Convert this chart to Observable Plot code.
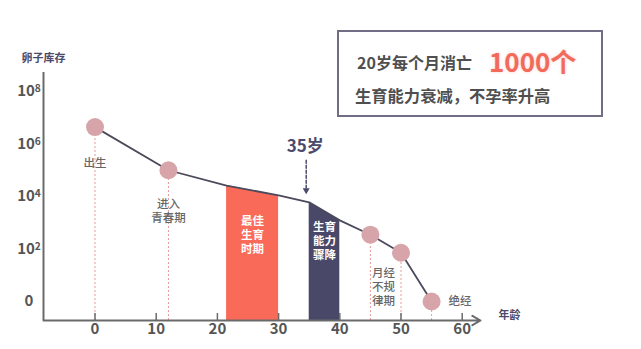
<!DOCTYPE html>
<html><head><meta charset="utf-8">
<script src="https://cdn.jsdelivr.net/npm/d3@7"></script>
<script src="https://cdn.jsdelivr.net/npm/@observablehq/plot@0.6"></script>
<style>
html,body{margin:0;padding:0;background:#fff;}
#wrap{position:relative;width:641px;height:349px;overflow:hidden;font-family:"Noto Sans CJK SC","Noto Sans",sans-serif;}
#wrap svg{position:absolute;left:0;top:0;}
#box{position:absolute;left:337px;top:30px;width:262px;height:83px;border:2px solid #6f6e84;}
.t{position:absolute;white-space:nowrap;font-weight:700;color:#4f4f4f;}
#l1{left:357px;top:51px;font-size:16px;line-height:22px;}
#big{left:489px;top:44px;font-size:26px;line-height:34px;color:#f26a5a;text-shadow:0 0 3px rgba(242,106,90,0.35);}
#l2{left:355px;top:84px;font-size:16.3px;line-height:22px;}
</style></head>
<body>
<div id="wrap">
  <div id="box"></div>
  <div class="t" id="l1"></div>
  <div class="t" id="big"></div>
  <div class="t" id="l2"></div>
</div>
<script>
// ---- data ----
const ages = [0, 12, 21.5, 30, 35, 40, 45, 50, 55];
const eggs = [4400000, 100000, 26000, 11000, 6000, 1230, 350, 72, 1];
const milestoneAges = [0, 12, 45, 50, 55];
const milestoneEggs = [4400000, 100000, 350, 72, 1];
const milestoneLabels = ["出生", "进入\n青春期", "月经\n不规\n律期", "绝经"];
const bestPeriod = [21.5, 30];
const bestLabel = "最佳\n生育\n时期";
const declinePeriod = [35, 40];
const declineLabel = "生育\n能力\n骤降";
const turnAge = 35;
const turnLabel = "35岁";
const xTicks = [0, 10, 20, 30, 40, 50, 60];
const yTicks = [1, 1e2, 1e4, 1e6, 1e8];
const yTickLabels = ["0", "10²", "10⁴", "10⁶", "10⁸"];
const yTitle = "卵子库存";
const xTitle = "年龄";
const calloutLine1 = "20岁每个月消亡";
const calloutBig = "1000个";
const calloutLine2 = "生育能力衰减，不孕率升高";

document.getElementById("l1").textContent = calloutLine1;
document.getElementById("big").textContent = calloutBig;
document.getElementById("l2").textContent = calloutLine2;

const curve = ages.map((age, i) => ({age, eggs: eggs[i]}));
const milestones = milestoneAges.map((age, i) => ({age, eggs: milestoneEggs[i]}));
const turn = curve.find(d => d.age === turnAge);

const xLo = -8.415, xHi = 62.99;
const yLo = Math.pow(10, -0.724), yHi = Math.pow(10, 8.724);

const font = '"Noto Sans CJK SC","Noto Sans",sans-serif';
const axisColor = "#6a6a6a";
const labelStyle = {fontSize: 11.5, fill: "#666", fontWeight: 500, lineHeight: 1.22};
const barText = {fontSize: 11.5, fill: "#fff", fontWeight: 700, lineHeight: 1.2};

const chart = Plot.plot({
  width: 641, height: 349,
  marginLeft: 43, marginRight: 161, marginTop: 72, marginBottom: 29,
  x: {domain: [xLo, xHi], axis: null},
  y: {type: "log", domain: [yLo, yHi], axis: null},
  style: {fontFamily: font, background: "transparent", overflow: "visible"},
  marks: [
    Plot.areaY(curve.filter(d => d.age >= bestPeriod[0] && d.age <= bestPeriod[1]),
      {x: "age", y1: () => yLo, y2: "eggs", fill: "#fa6a59"}),
    Plot.areaY(curve.filter(d => d.age >= declinePeriod[0] && d.age <= declinePeriod[1]),
      {x: "age", y1: () => yLo, y2: "eggs", fill: "#4a4869"}),
    Plot.ruleX(milestones, {x: "age", y1: () => yLo, y2: "eggs", stroke: "#e99a9a", strokeWidth: 1, strokeDasharray: "2,2"}),
    Plot.line(curve, {x: "age", y: "eggs", stroke: "#4a4a5c", strokeWidth: 1.8}),
    Plot.dot(milestones, {x: "age", y: "eggs", r: 9, fill: "#d7a5a9"}),
    // axes
    Plot.ruleX([xLo], {stroke: axisColor, strokeWidth: 2}),
    Plot.arrow([0], {x1: () => xLo, x2: () => xHi, y1: () => yLo, y2: () => yLo, stroke: axisColor, strokeWidth: 2, headLength: 7}),
    Plot.ruleX(xTicks, {insetTop: 241, stroke: axisColor, strokeWidth: 1.5}),
    Plot.text(xTicks, {x: d => d, frameAnchor: "bottom", dy: 13, text: d => String(d), fontSize: 15, fontWeight: 700, fill: "#555"}),
    Plot.text(yTicks, {y: d => d, frameAnchor: "left", dx: -14.5, textAnchor: "middle", text: (d, i) => yTickLabels[i], fontSize: 15, fontWeight: 700, fill: "#555"}),
    Plot.text([yTitle], {frameAnchor: "top-left", dy: -18, textAnchor: "middle", text: d => d, fontSize: 11, fontWeight: 700, fill: "#4b4a6b"}),
    Plot.text([xTitle], {frameAnchor: "bottom-right", dx: 18, dy: -2, textAnchor: "start", text: d => d, fontSize: 11, fontWeight: 700, fill: "#4b4a6b"}),
    // milestone labels
    Plot.text([milestones[0]], {x: "age", y: "eggs", dy: 35, text: () => milestoneLabels[0], ...labelStyle}),
    Plot.text([milestones[1]], {x: "age", y: "eggs", dy: 40, text: () => milestoneLabels[1], ...labelStyle}),
    Plot.text([milestones[2]], {x: "age", y: "eggs", dx: 13, dy: 52, text: () => milestoneLabels[2], ...labelStyle}),
    Plot.text([milestones[4]], {x: "age", y: "eggs", dx: 17, dy: -1, textAnchor: "start", text: () => milestoneLabels[3], ...labelStyle}),
    // period labels
    Plot.text([bestPeriod], {x: d => (d[0] + d[1]) / 2, frameAnchor: "bottom", dy: -68, text: () => bestLabel, ...barText}),
    Plot.text([declinePeriod], {x: d => (d[0] + d[1]) / 2, frameAnchor: "bottom", dy: -62, text: () => declineLabel, ...barText}),
    // 35 annotation
    Plot.text([turn], {x: "age", y: "eggs", dx: -4, dy: -56, text: () => turnLabel, fontSize: 17, fontWeight: 700, fill: "#4b4a6b"}),
    Plot.vector([turn], {x: "age", y: "eggs", dx: -3, dy: -12, length: 30, rotate: 180, anchor: "end",
      shape: {draw(context, l) { context.moveTo(0, 0); context.lineTo(0, -l); }},
      stroke: "#4b4a6b", strokeWidth: 1.5, strokeDasharray: "3,2"}),
    Plot.dot([turn], {x: "age", y: "eggs", dx: -3, dy: -12, symbol: "triangle", rotate: 180, r: 2.6, fill: "#4b4a6b", stroke: "none"})
  ]
});

// render superscript exponents as real raised text
const supMap = {"²": "2", "⁴": "4", "⁶": "6", "⁸": "8"};
chart.querySelectorAll("text").forEach(t => {
  const m = /^10([²⁴⁶⁸])$/.exec(t.textContent);
  if (!m) return;
  t.textContent = "10";
  const ts = document.createElementNS("http://www.w3.org/2000/svg", "tspan");
  ts.setAttribute("dy", "-0.42em");
  ts.setAttribute("font-size", "0.68em");
  ts.textContent = supMap[m[1]];
  t.appendChild(ts);
});
document.getElementById("wrap").prepend(chart);
</script>
</body></html>
